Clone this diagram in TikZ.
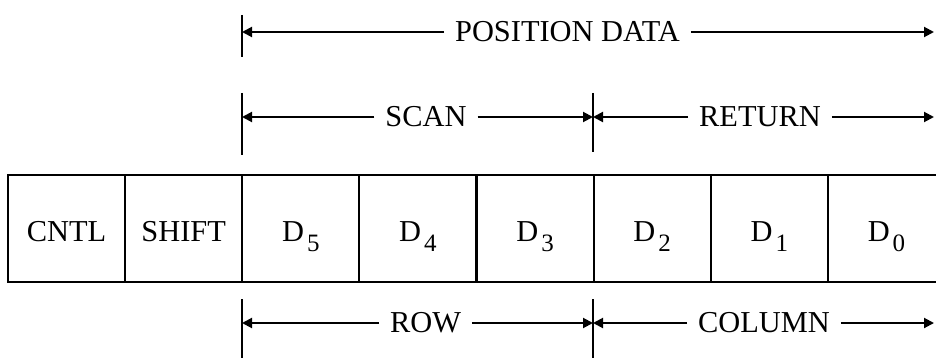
\documentclass[tikz,border=0pt]{standalone}
\usepackage{fontspec}
\setmainfont{Liberation Serif}
\usetikzlibrary{arrows.meta}
\newcommand{\dsub}[1]{D\kern1.5pt\raisebox{-5pt}{\fontsize{12.5}{14}\selectfont #1}}
\begin{document}
\begin{tikzpicture}[x=0.5pt, y=-0.5pt, line width=1pt,
    every node/.style={font=\fontsize{15.2}{18}\selectfont},
    cell/.style={draw, line width=1pt, minimum width=58.5pt, minimum height=53.5pt,
      inner sep=0pt, text height=13pt, text depth=0pt},
    lab/.style={inner sep=5pt},
    dim/.style={-{Triangle[length=5pt,width=5pt]}}]
    \clip (0, 0) rectangle (936, 358);

    % the word
    \foreach \i/\txt in {0/CNTL, 1/SHIFT, 2/\dsub{5}, 3/\dsub{4},
                         4/\dsub{3}, 5/\dsub{2}, 6/\dsub{1}, 7/\dsub{0}}
      \node[cell] (c\i) at (66.5 + 117.14*\i, 228.5) {\txt};

    % ticks
    \coordinate (ta) at (242, 15);  \coordinate (tb) at (242, 57);
    \coordinate (tc) at (242, 93);  \coordinate (td) at (242, 155);
    \coordinate (te) at (593, 93);  \coordinate (tf) at (593, 152);
    \coordinate (tg) at (242, 299); \coordinate (th) at (242, 358);
    \coordinate (ti) at (593, 299); \coordinate (tj) at (593, 358);
    \draw (ta) -- (tb);
    \draw (tc) -- (td);
    \draw (te) -- (tf);
    \draw (tg) -- (th);
    \draw (ti) -- (tj);

    % position data
    \coordinate (pL) at (242, 32);
    \coordinate (pR) at (934, 32);
    \node[lab] (pos) at (567.5, 32) {POSITION DATA};
    \draw[dim] (pos) -- (pL);
    \draw[dim] (pos) -- (pR);

    % scan / return
    \coordinate (sL) at (242, 117);
    \coordinate (sR) at (593, 117);
    \coordinate (rR) at (934, 117);
    \node[lab] (scan) at (426, 117) {SCAN};
    \node[lab] (ret) at (760, 117) {RETURN};
    \draw[dim] (scan) -- (sL);
    \draw[dim] (scan) -- (sR);
    \draw[dim] (ret) -- (sR);
    \draw[dim] (ret) -- (rR);

    % row / column
    \coordinate (wL) at (242, 323);
    \coordinate (wR) at (593, 323);
    \coordinate (kR) at (934, 323);
    \node[lab] (row) at (425.5, 323) {ROW};
    \node[lab] (col) at (764, 323) {COLUMN};
    \draw[dim] (row) -- (wL);
    \draw[dim] (row) -- (wR);
    \draw[dim] (col) -- (wR);
    \draw[dim] (col) -- (kR);
\end{tikzpicture}
\end{document}
